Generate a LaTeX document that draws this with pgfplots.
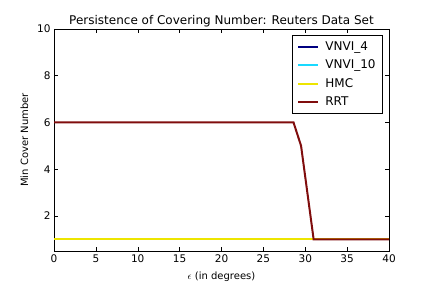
\documentclass[border=0pt]{standalone}
\usepackage{pgfplots}
\pgfplotsset{compat=1.18}
\usepackage{fontspec}
\setmainfont{DejaVu Sans}
\definecolor{jnavy}{rgb}{0.0,0.0,0.5}
\definecolor{jcyan}{rgb}{0.1,0.85,1.0}
\definecolor{jyellow}{rgb}{0.93,0.9,0.0}
\definecolor{jred}{rgb}{0.5,0.05,0.05}
\begin{document}
\begin{tikzpicture}
\begin{axis}[
  name=ax,
  scale only axis,
  width=335pt, height=222pt,
  xmin=0, xmax=40, ymin=0.5, ymax=10,
  xtick={0,5,...,40}, ytick={2,4,6,8,10},
  tick align=inside, tick pos=both,
  major tick length=4pt,
  tick style={black, line width=0.5pt},
  axis line style={line width=0.8pt},
  ticklabel style={font=\fontsize{10.5}{12}\selectfont},
  /pgf/number format/assume math mode=true,
  title={Persistence of Covering Number: Reuters Data Set},
  title style={font=\fontsize{12}{14}\selectfont, yshift=-8pt},
  xlabel={$\epsilon$ (in degrees)},
  ylabel={Min Cover Number},
  label style={font=\fontsize{10}{12}\selectfont},
  xlabel style={yshift=-3pt},
  ylabel style={yshift=2pt},
  legend style={at={(0.982,0.973)}, anchor=north east, draw=black, line width=0.8pt,
    font=\fontsize{12}{14}\selectfont, inner xsep=5pt, inner ysep=4pt,
    row sep=4.2pt, column sep=4pt, cells={anchor=west}},
  legend cell align=left,
  legend image code/.code={\draw[#1, line width=2pt] (0pt,0pt) -- (20pt,0pt);},
]
\addplot[color=jnavy, line width=2pt] coordinates {(0,1) (40,1)};
\addlegendentry{VNVI\_4}
\addplot[color=jcyan, line width=2pt] coordinates {(0,1) (40,1)};
\addlegendentry{VNVI\_10}
\addplot[color=jyellow, line width=2pt] coordinates {(0,1) (40,1)};
\addlegendentry{HMC}
\addplot[color=jred, line width=2pt] coordinates {(0,6) (28.6,6) (29.5,5) (31.0,1) (40,1)};
\addlegendentry{RRT}
\end{axis}
\path[use as bounding box] ([xshift=-54pt,yshift=-37pt]ax.south west) rectangle ([xshift=43pt,yshift=29pt]ax.north east);
\end{tikzpicture}
\end{document}
